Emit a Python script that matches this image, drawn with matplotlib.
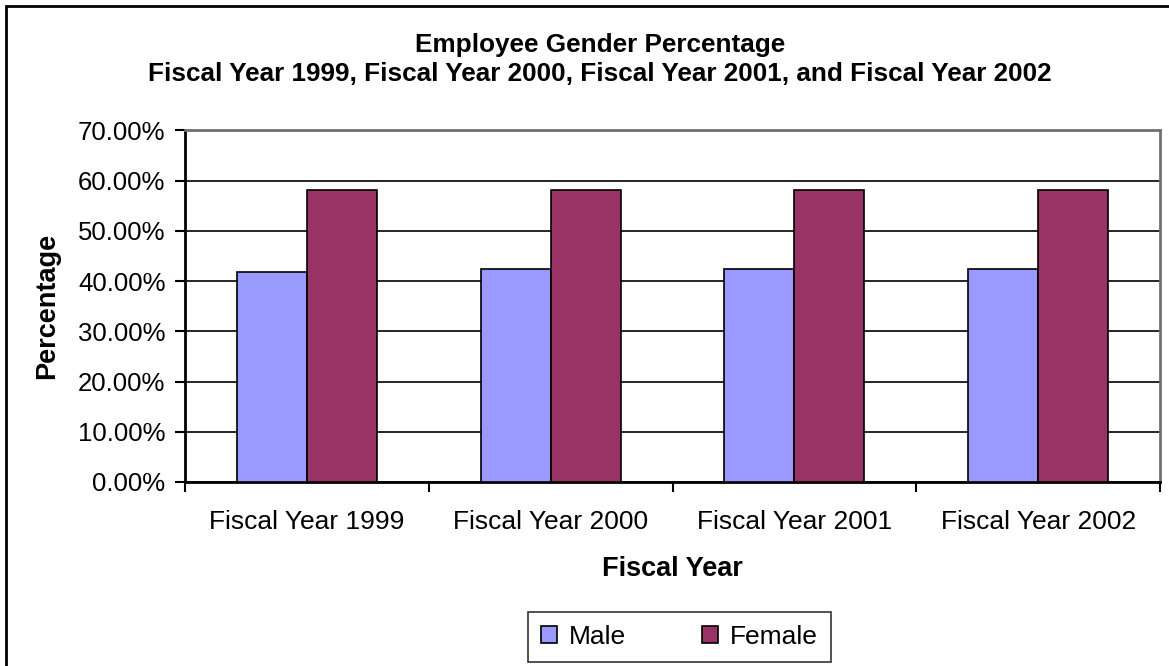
import matplotlib.pyplot as plt
import numpy as np
from matplotlib.patches import Rectangle
from matplotlib.ticker import FuncFormatter

years = ['Fiscal Year 1999', 'Fiscal Year 2000', 'Fiscal Year 2001', 'Fiscal Year 2002']
male = [41.8, 42.3, 42.3, 42.3]
female = [58.2, 58.2, 58.2, 58.2]

plt.rcParams['font.family'] = ['Liberation Sans', 'DejaVu Sans']

fig = plt.figure(figsize=(11.69, 6.66), dpi=100)
ax = fig.add_axes([0.1583, 0.2763, 0.834, 0.528])

x = np.arange(len(years))
w = 0.287
ax.bar(x - w / 2, male, w, color='#9999ff', edgecolor='black', linewidth=1.2, label='Male', zorder=3)
ax.bar(x + w / 2, female, w, color='#993366', edgecolor='black', linewidth=1.2, label='Female', zorder=3)

ax.set_xlim(-0.5, len(years) - 0.5)
ax.set_ylim(0, 70)
ax.set_yticks(range(0, 71, 10))
ax.yaxis.set_major_formatter(FuncFormatter(lambda v, p: f'{v:.2f}%'))
ax.yaxis.grid(True, color='black', linewidth=1.2, zorder=0)

ax.set_xticks(np.arange(len(years) + 1) - 0.5)
ax.set_xticklabels([])
ax.set_xticks(x, minor=True)
ax.set_xticklabels(years, minor=True)
ax.tick_params(axis='x', which='minor', length=0, pad=20, labelsize=19)
ax.tick_params(axis='x', which='major', length=7, width=1.5, direction='out')
ax.tick_params(axis='y', length=7, width=1.5, direction='out', labelsize=18.5, pad=7)

for s in ['left', 'bottom']:
    ax.spines[s].set_color('black')
    ax.spines[s].set_linewidth(2)
for s in ['top', 'right']:
    ax.spines[s].set_color('#707070')
    ax.spines[s].set_linewidth(2)

ax.set_xlabel('Fiscal Year', fontsize=19.5, fontweight='bold', labelpad=16)
ax.set_ylabel('Percentage', fontsize=19.5, fontweight='bold', labelpad=13)

fig.text(0.513, 0.911, 'Employee Gender Percentage\nFiscal Year 1999, Fiscal Year 2000, Fiscal Year 2001, and Fiscal Year 2002',
         ha='center', va='center', fontsize=18.8, fontweight='bold', linespacing=1.25)

leg = fig.legend(loc='center', bbox_to_anchor=(0.581, 0.0435), ncol=2, fontsize=19, frameon=True,
                 fancybox=False, edgecolor='black', handlelength=0.6, handleheight=0.6,
                 handletextpad=0.45, columnspacing=2.9, borderpad=0.5)
leg.get_frame().set_linewidth(1.2)

fig.patches.append(Rectangle((6 / 1169, -0.1), 1.2, 1 - 6 / 666 + 0.1, transform=fig.transFigure,
                             fill=False, edgecolor='black', linewidth=2))

fig.savefig('out.png', dpi=100)
